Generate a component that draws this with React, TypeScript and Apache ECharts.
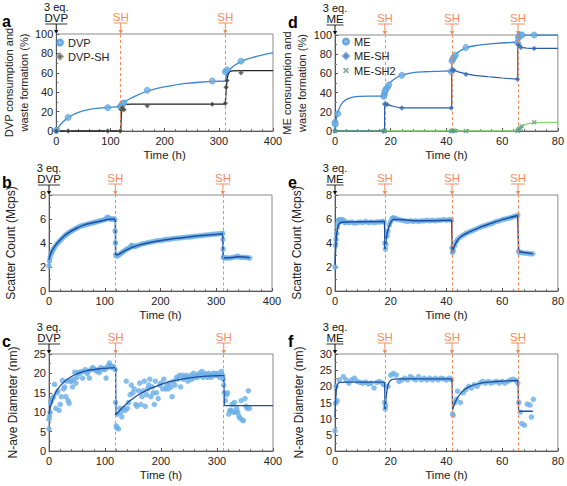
import React, { useEffect, useRef } from 'react';
import * as echarts from 'echarts';

// ---------------- data ----------------
const dvpShTimes = [119, 312];
const meShTimes = [17.9, 42, 65.7];

// panel a
const dvpPts = [[0, 0.5], [1, 1], [22, 14], [95, 24], [118, 25], [120, 26], [122, 28], [125, 29], [168, 42], [288, 51.5], [312, 61], [315, 63], [341, 72]];
const dvpShPts = [[0, 0], [22, 0], [95, 0], [118, 0], [120, 22], [122, 24], [125, 22], [168, 26], [288, 27.5], [312, 28.5], [313.5, 45], [315, 52], [341, 60]];
const dvpFit = [
  [[0, 0], [5, 4.5], [10, 8], [20, 13], [30, 16.5], [40, 19], [55, 21.5], [70, 23], [90, 24.2], [110, 24.8], [119, 25]],
  [[119, 25], [121, 27], [125, 29.5], [135, 33], [150, 37], [170, 41.5], [190, 44.5], [210, 46.5], [240, 49], [270, 50.5], [300, 51.3], [312, 51.5]],
  [[312, 51.5], [314, 57], [317, 61.5], [322, 64.5], [330, 68], [341, 71.5], [355, 74.5], [370, 77], [385, 79], [400, 80.5]],
];
const dvpShFit = [
  [[0, 0], [119, 0]],
  [[119, 0], [120, 16], [121, 23], [123, 26.5], [127, 27.5], [140, 27.7], [312, 27.8]],
  [[312, 27.8], [313.5, 42], [315, 52], [317, 58], [320, 61], [325, 62], [340, 62.2], [400, 62.2]],
];

// panel d
const mePts = [[0, 9], [0.1, 7], [1, 18], [17.5, 36], [17.7, 38], [17.9, 41], [18.2, 43], [18.7, 45], [19.3, 48], [24, 58], [41.7, 62], [42, 73], [42.3, 75], [42.7, 77], [43.2, 79], [47, 87], [65.5, 92], [65.8, 97], [66.2, 99], [66.7, 100], [67.2, 100], [71.5, 100]];
const meShPts = [[0, 0], [17.5, 0], [17.8, 28], [18.1, 28], [18.7, 27.5], [24, 24], [41.7, 24], [42, 63], [42.3, 64], [42.7, 63], [47, 59], [65.5, 54], [65.8, 90], [66.1, 89], [66.7, 87], [71.5, 86]];
const meSh2Pts = [[0, 0], [17.5, 0], [17.8, 0], [41.7, 0], [42, 0], [42.5, 0.5], [43, 0], [47, 0], [65.5, 0], [65.8, 1], [66.1, 2], [66.5, 3], [67, 5], [71.5, 9]];
const meFit = [
  [[0, 0], [0.3, 10], [0.7, 16], [1.2, 21], [2, 26.5], [3, 30.5], [4.5, 33.5], [6.5, 35.3], [9, 36], [13, 36.3], [17.8, 36.4]],
  [[17.8, 36.4], [17.9, 38.5], [18.4, 43], [19, 47], [20, 51], [21.5, 54.5], [23, 57], [25, 59], [28, 60.8], [32, 61.7], [37, 62.2], [41.9, 62.5]],
  [[41.9, 62.5], [42, 70], [42.4, 74], [43, 78], [44, 81.5], [45.5, 84.5], [47.5, 87], [50, 88.8], [54, 90.3], [58, 91.3], [62, 92], [65.6, 92.5]],
  [[65.6, 92.5], [65.8, 96], [66.3, 98], [67, 99.3], [68.5, 99.8], [72, 100], [80, 100]],
];
const meShFit = [
  [[0, 0], [17.8, 0]],
  [[17.8, 0], [17.8, 28]],
  [[17.8, 28], [18.5, 27.7], [20, 26.5], [22, 25], [24, 24.3], [27, 24], [41.9, 24]],
  [[41.9, 24], [41.9, 64]],
  [[41.9, 64], [43, 63], [45, 61], [47, 59.5], [50, 58], [55, 56.5], [60, 55.2], [65.6, 54]],
  [[65.6, 54], [65.6, 90]],
  [[65.6, 90], [66.5, 88], [67.5, 86.8], [69, 86.2], [72, 86], [80, 86]],
];
const meSh2Fit = [[0, 0], [65.6, 0], [66, 1.5], [67, 4.5], [68.5, 7], [70, 8], [72, 8.7], [76, 9], [80, 9]];

// panel b
const bPts = [[0, 2.1], [1, 2.5], [2, 2.8], [4, 3.1], [6, 3.3], [8, 3.5], [10, 3.65], [13, 3.85], [16, 4.0], [19, 4.15], [22, 4.3], [25, 4.45], [28, 4.6], [31, 4.7], [34, 4.8], [37, 4.9], [40, 5.0], [44, 5.1], [48, 5.2], [52, 5.3], [56, 5.4], [60, 5.45], [64, 5.5], [68, 5.55], [72, 5.6], [76, 5.65], [80, 5.7], [84, 5.75], [88, 5.8], [92, 5.85], [96, 5.9], [100, 5.95], [103, 6.05], [105, 6.15], [107, 6.1], [110, 6.0], [113, 6.0], [116, 6.0], [118, 5.95], [118.5, 5.0], [119, 4.0], [119.5, 3.0], [122, 2.9], [125, 3.0], [128, 3.1], [131, 3.2], [134, 3.3], [137, 3.4], [140, 3.5], [143, 3.55], [146, 3.65], [148, 3.8], [150, 3.75], [153, 3.7], [156, 3.75], [160, 3.8], [165, 3.9], [170, 3.95], [175, 4.0], [180, 4.05], [185, 4.1], [190, 4.15], [195, 4.2], [200, 4.2], [205, 4.25], [210, 4.3], [215, 4.3], [220, 4.35], [225, 4.38], [230, 4.4], [235, 4.42], [240, 4.45], [245, 4.48], [250, 4.5], [255, 4.52], [260, 4.55], [265, 4.57], [270, 4.6], [275, 4.62], [280, 4.65], [285, 4.67], [290, 4.7], [295, 4.72], [300, 4.75], [305, 4.77], [310, 4.78], [311.5, 4.8], [312, 4.3], [312.3, 3.5], [312.6, 2.8], [316, 2.75], [320, 2.75], [325, 2.75], [330, 2.8], [335, 2.85], [338, 2.9], [341, 2.85], [345, 2.8], [350, 2.8], [355, 2.78], [360, 2.75]];
const bFit = [
  [[0, 2.6], [3, 3.1], [6, 3.4], [10, 3.7], [15, 4.0], [20, 4.25], [30, 4.7], [40, 5.0], [50, 5.25], [60, 5.45], [70, 5.6], [80, 5.7], [90, 5.8], [100, 5.9], [110, 5.97], [119, 6.0]],
  [[119, 6.0], [119.5, 3.0]],
  [[119.5, 3.0], [125, 3.05], [130, 3.2], [140, 3.45], [150, 3.65], [160, 3.8], [175, 3.98], [190, 4.12], [210, 4.28], [230, 4.4], [250, 4.5], [270, 4.6], [290, 4.68], [312, 4.78]],
  [[312, 4.78], [312.5, 2.75]],
  [[312.5, 2.75], [330, 2.8], [340, 2.85], [360, 2.78]],
];

// panel e
const ePts = [[0, 2.0], [0.2, 3.8], [0.4, 4.3], [0.6, 4.8], [0.8, 5.3], [1, 5.6], [1.3, 5.9], [1.6, 5.95], [2, 5.8], [2.5, 5.95], [3, 5.9], [3.5, 5.7], [4, 5.75], [5, 5.7], [6, 5.75], [7, 5.65], [8, 5.7], [9, 5.75], [10, 5.7], [11, 5.8], [12, 5.7], [13, 5.75], [14, 5.7], [15, 5.75], [16, 5.75], [17, 5.8], [17.6, 5.75], [17.9, 4.0], [18.1, 3.5], [18.3, 3.9], [18.7, 4.6], [19, 5.0], [19.5, 5.5], [20, 5.8], [20.5, 6.05], [21, 6.1], [21.5, 6.05], [22, 6.0], [23, 5.95], [24, 5.9], [25, 5.85], [26, 5.8], [27, 5.85], [28, 5.8], [29, 5.85], [30, 5.8], [31, 5.85], [32, 5.85], [33, 5.9], [34, 5.85], [35, 5.9], [36, 5.85], [37, 5.9], [38, 5.9], [39, 5.95], [40, 5.9], [41, 5.95], [41.8, 5.9], [42, 3.6], [42.2, 3.2], [42.5, 3.4], [43, 3.8], [43.5, 4.1], [44, 4.3], [45, 4.5], [46, 4.65], [47, 4.8], [48, 4.9], [49, 5.0], [50, 5.1], [51, 5.2], [52, 5.3], [53, 5.4], [54, 5.45], [55, 5.55], [56, 5.6], [57, 5.7], [58, 5.8], [59, 5.85], [60, 5.95], [61, 6.0], [62, 6.05], [63, 6.1], [64, 6.2], [65, 6.25], [65.6, 6.3], [65.9, 3.3], [66.3, 3.2], [67, 3.2], [68, 3.15], [69, 3.15], [70, 3.1], [71, 3.1]];
const eFit = [
  [[0, 2.2], [0.3, 3.8], [0.6, 4.7], [1, 5.3], [1.5, 5.6], [2.5, 5.72], [5, 5.75], [17.8, 5.8]],
  [[17.8, 5.8], [17.95, 3.5]],
  [[17.95, 3.5], [18.3, 4.2], [19, 5.1], [20, 5.7], [21, 5.95], [23, 5.95], [30, 5.85], [41.9, 5.9]],
  [[41.9, 5.9], [42.1, 3.2]],
  [[42.1, 3.2], [42.6, 3.6], [43.5, 4.05], [45, 4.5], [48, 4.9], [52, 5.3], [56, 5.65], [60, 5.95], [65.6, 6.3]],
  [[65.6, 6.3], [65.9, 3.3]],
  [[65.9, 3.3], [68, 3.2], [71, 3.1]],
];

// panel c
const cPts = [[0, 5.7], [0, 8.2], [1, 9], [2, 10], [3, 12.5], [4, 13], [6, 13.5], [8, 14], [10, 17.2], [12, 11], [14, 15], [16, 15.5], [18, 10.5], [20, 12], [22, 14], [24, 18.2], [26, 16], [28, 16.5], [30, 14], [32, 18], [34, 13], [36, 12.3], [38, 18], [40, 18], [42, 16.5], [44, 18.5], [46, 20.3], [48, 17.5], [50, 19], [52, 20.2], [55, 20], [58, 20.5], [60, 18.8], [62, 20.5], [65, 21], [68, 20], [70, 20.5], [72, 18.8], [75, 21], [78, 21.5], [80, 21.2], [83, 20.8], [86, 20.5], [88, 21], [90, 20.2], [92, 21.5], [95, 21], [98, 21.3], [100, 21], [102, 18.8], [104, 21.5], [106, 22], [108, 22.7], [110, 22], [112, 21.5], [115, 21.8], [118, 21], [119, 12.5], [120, 6.5], [121, 6], [122, 9.5], [124, 5.7], [126, 11], [128, 10], [130, 8.8], [133, 11], [136, 10.5], [138, 18], [140, 11], [142, 12.5], [145, 14.5], [147, 17], [150, 15], [152, 16], [155, 12], [157, 11.5], [160, 15.5], [162, 17.5], [164, 12], [166, 14], [168, 15.5], [170, 18], [172, 11.5], [174, 14.5], [176, 16], [178, 17], [180, 18.5], [182, 14], [184, 16.5], [186, 15], [188, 12], [190, 18], [192, 15], [195, 13.5], [198, 17], [200, 17.5], [203, 16], [205, 18.5], [208, 16], [210, 17], [213, 16], [215, 17.5], [218, 16.5], [220, 14], [222, 18], [225, 17], [228, 19], [230, 18.5], [233, 19.5], [235, 16.5], [238, 19.5], [240, 18.5], [243, 19], [245, 19.5], [248, 18], [250, 19], [253, 19.5], [255, 18.5], [258, 20], [260, 19], [263, 19.5], [265, 19], [268, 20], [270, 19.5], [273, 20.5], [275, 19], [278, 20], [280, 19.5], [283, 19], [285, 20], [288, 19.5], [290, 19], [293, 20], [295, 19.5], [298, 20], [300, 19.5], [303, 20], [305, 19], [308, 20.5], [310, 19.5], [311, 18.5], [312, 17], [313, 15], [315, 13], [317, 14.5], [319, 15], [321, 9.5], [323, 10.5], [325, 10.5], [327, 12], [329, 10], [331, 12.5], [333, 10], [335, 11], [337, 10], [339, 9], [341, 8.5], [343, 13], [345, 8], [347, 7.8], [350, 13.5], [352, 11.5], [354, 11], [356, 15.5], [358, 11]];
const cFit = [
  [[0, 9.5], [3, 11.5], [6, 13], [10, 14.5], [15, 15.8], [20, 16.8], [30, 18.2], [40, 19.2], [50, 19.9], [60, 20.4], [70, 20.8], [80, 21.0], [90, 21.2], [100, 21.3], [110, 21.4], [119, 21.5]],
  [[119, 21.5], [119.5, 9.3]],
  [[119.5, 9.3], [125, 10.2], [130, 11], [140, 12.4], [150, 13.5], [160, 14.5], [175, 15.7], [190, 16.6], [205, 17.4], [220, 18], [240, 18.6], [260, 19], [280, 19.3], [300, 19.4], [312, 19.5]],
  [[312, 19.5], [313, 11.7]],
  [[313, 11.7], [400, 11.7]],
];

// panel f
const fPts = [[0, 6.3], [0.2, 14.8], [0.4, 20], [0.8, 15.5], [1.5, 22], [3, 23], [4, 22], [5, 21], [6, 22], [7, 22.5], [8, 21.5], [9, 21.2], [10, 21], [11, 21.3], [12, 20.8], [13, 21], [14, 19.5], [15, 21.2], [16, 21.5], [17, 21], [17.5, 20.5], [17.8, 15], [18, 13], [18.2, 14], [19, 20], [20, 23.5], [21, 24], [22, 23.5], [23, 21.5], [24, 22], [25, 22.5], [26, 22], [27, 23], [28, 22.5], [29, 22], [30, 23], [31, 22], [32, 22.5], [33, 22], [34, 22.5], [35, 22], [36, 22.5], [37, 22], [38, 22.5], [39, 22.3], [40, 22], [41, 22.5], [41.8, 22], [42.2, 11.5], [42.4, 11], [43, 15], [43.5, 16], [44, 18.5], [45, 15], [46, 18], [47, 19], [48, 20], [49, 19.5], [50, 20.5], [51, 20], [52, 21], [53, 21.5], [54, 21], [55, 21.5], [56, 21], [57, 21.3], [58, 21.5], [59, 21], [60, 21.5], [61, 21], [62, 21.5], [63, 22], [64, 22.2], [65, 21.8], [65.6, 21], [66, 15], [66.5, 12], [67, 8.5], [68, 8], [69, 14.5], [70, 14.2], [70.5, 10.5], [71.2, 16]];
const fFit = [
  [[0, 10.5], [0.2, 15], [0.5, 19], [1, 20.8], [2, 21.2], [5, 21.3], [17.8, 21.3]],
  [[17.8, 21.3], [18, 13]],
  [[18, 13], [18.4, 17], [18.8, 19.5], [19.3, 21], [20, 21.9], [21, 22.2], [23, 22.3], [42, 22.3]],
  [[42, 22.3], [42.2, 12.8]],
  [[42.2, 12.8], [43, 14.8], [44, 16.5], [45.5, 18.2], [47, 19.3], [49, 20.2], [52, 20.9], [55, 21.3], [58, 21.5], [62, 21.7], [65.7, 21.8]],
  [[65.7, 21.8], [65.9, 12.3]],
  [[65.9, 12.3], [71, 12.3]],
];

// ---------------- style / layout ----------------
const FONT = "'Liberation Sans', Arial, Helvetica, sans-serif";
const ORANGE = '#f58a5c';
const LIGHT = '#6aaee6';
const LIGHT_B = '#4d96d8';
const DARK = '#1c4f9e';
const GREEN = '#86d96a';
const XMARK = 'path://M0,2L2,0L5,3L8,0L10,2L7,5L10,8L8,10L5,7L2,10L0,8L3,5Z';

const panels = [
  { letter: 'a', grid: { left: 49, top: 34, width: 224, height: 97 }, xMax: 400, xInt: 100, yMax: 100, yInt: 20, yName: 'DVP consumption and\nwaste formation (%)', yGap: 18, yFs: 11, agent: 'DVP', sh: dvpShTimes, lx: 2 },
  { letter: 'b', grid: { left: 49, top: 195, width: 223, height: 96 }, xMax: 400, xInt: 100, yMax: 8, yInt: 2, yName: 'Scatter Count (Mcps)', yGap: 31, yFs: 12, agent: 'DVP', sh: dvpShTimes, lx: 2 },
  { letter: 'c', grid: { left: 49, top: 354, width: 224, height: 97 }, xMax: 400, xInt: 100, yMax: 25, yInt: 5, yName: 'N-ave Diameter (nm)', yGap: 29, yFs: 12, agent: 'DVP', sh: dvpShTimes, lx: 2 },
  { letter: 'd', grid: { left: 335, top: 35, width: 224, height: 96 }, xMax: 80, xInt: 20, yMax: 100, yInt: 20, yName: 'ME consumption and\nwaste formation (%)', yGap: 19, yFs: 11, agent: 'ME', sh: meShTimes, lx: 288 },
  { letter: 'e', grid: { left: 335, top: 195, width: 224, height: 96 }, xMax: 80, xInt: 20, yMax: 8, yInt: 2, yName: 'Scatter Count (Mcps)', yGap: 31, yFs: 12, agent: 'ME', sh: meShTimes, lx: 288 },
  { letter: 'f', grid: { left: 335, top: 354, width: 224, height: 97 }, xMax: 80, xInt: 20, yMax: 30, yInt: 5, yName: 'N-ave Diameter (nm)', yGap: 29, yFs: 12, agent: 'ME', sh: meShTimes, lx: 288 },
];

function fitSeries(segs: number[][][], i: number, color: string, width = 1.3, z = 3) {
  return segs.map((s, k) => ({
    type: 'line', name: `fit-${i}-${color}-${k}`, xAxisIndex: i, yAxisIndex: i, data: s,
    smooth: s.length > 2 ? 0.35 : false, symbol: 'none', showSymbol: false, silent: true, z,
    lineStyle: { color, width },
  }));
}

function shMark(times: number[]) {
  return {
    silent: true, symbol: ['none', 'none'], label: { show: false },
    lineStyle: { color: ORANGE, type: [3, 2.5], width: 1 },
    data: times.map((t) => ({ xAxis: t })),
  };
}

function buildOption() {
  const series: any[] = [];
  // a
  series.push({ type: 'scatter', name: 'DVP', xAxisIndex: 0, yAxisIndex: 0, data: dvpPts, symbol: 'circle', symbolSize: 6, itemStyle: { color: LIGHT, borderColor: LIGHT_B, borderWidth: 0.8 }, z: 4, markLine: shMark(dvpShTimes) });
  series.push({ type: 'scatter', name: 'DVP-SH', xAxisIndex: 0, yAxisIndex: 0, data: dvpShPts, symbol: 'diamond', symbolSize: 5, itemStyle: { color: '#3a3a3a', borderColor: '#999', borderWidth: 0.6 }, z: 5 });
  series.push(...fitSeries(dvpFit, 0, '#3b86d0', 1.3));
  series.push(...fitSeries(dvpShFit, 0, '#222222', 1.3));
  // b
  series.push({ type: 'scatter', name: 'b-pts', xAxisIndex: 1, yAxisIndex: 1, data: bPts, symbolSize: 5.5, itemStyle: { color: LIGHT }, z: 2, markLine: shMark(dvpShTimes) });
  series.push(...fitSeries(bFit, 1, DARK, 1.5));
  // c
  series.push({ type: 'scatter', name: 'c-pts', xAxisIndex: 2, yAxisIndex: 2, data: cPts, symbolSize: 5.5, itemStyle: { color: LIGHT }, z: 2, markLine: shMark(dvpShTimes) });
  series.push(...fitSeries(cFit, 2, DARK, 1.3));
  // d
  series.push({ type: 'scatter', name: 'ME', xAxisIndex: 3, yAxisIndex: 3, data: mePts, symbol: 'circle', symbolSize: 6, itemStyle: { color: LIGHT, borderColor: LIGHT_B, borderWidth: 0.8 }, z: 4, markLine: shMark(meShTimes) });
  series.push({ type: 'scatter', name: 'ME-SH', xAxisIndex: 3, yAxisIndex: 3, data: meShPts, symbol: 'diamond', symbolSize: 5, itemStyle: { color: '#3467b0', borderColor: '#6e98d0', borderWidth: 0.6 }, z: 5 });
  series.push({ type: 'scatter', name: 'ME-SH2', xAxisIndex: 3, yAxisIndex: 3, data: meSh2Pts, symbol: XMARK, symbolSize: 5, itemStyle: { color: '#5a9e8a' }, z: 5 });
  series.push(...fitSeries(meFit, 3, '#3b80cc', 1.3));
  series.push(...fitSeries(meShFit, 3, '#2a5aa6', 1.2));
  series.push(...fitSeries([meSh2Fit], 3, GREEN, 1.3, 2));
  // e
  series.push({ type: 'scatter', name: 'e-pts', xAxisIndex: 4, yAxisIndex: 4, data: ePts, symbolSize: 5.5, itemStyle: { color: LIGHT }, z: 2, markLine: shMark(meShTimes) });
  series.push(...fitSeries(eFit, 4, DARK, 1.5));
  // f
  series.push({ type: 'scatter', name: 'f-pts', xAxisIndex: 5, yAxisIndex: 5, data: fPts, symbolSize: 5.5, itemStyle: { color: LIGHT }, z: 2, markLine: shMark(meShTimes) });
  series.push(...fitSeries(fFit, 5, DARK, 1.3));

  const axisCommon = {
    type: 'value',
    axisLine: { show: true, lineStyle: { color: '#555', width: 1 } },
    axisTick: { show: true, inside: true, length: 3, lineStyle: { color: '#555' } },
    splitLine: { show: false },
  };

  const legendText = { fontSize: 11, color: '#222', fontFamily: FONT };
  return {
    animation: false,
    backgroundColor: '#ffffff',
    textStyle: { fontFamily: FONT },
    grid: panels.map((p) => ({ ...p.grid, show: true, borderColor: '#8a8a8a', borderWidth: 1, containLabel: false })),
    xAxis: panels.map((p, i) => ({
      ...axisCommon, gridIndex: i, min: 0, max: p.xMax, interval: p.xInt,
      minorTick: { show: true, splitNumber: 5, length: 2, lineStyle: { color: '#777' } },
      axisLabel: { fontSize: 11, color: '#222', margin: 4, fontFamily: FONT },
      name: 'Time (h)', nameLocation: 'middle', nameGap: 18,
      nameTextStyle: { fontSize: 11.5, color: '#222', fontFamily: FONT },
    })),
    yAxis: panels.map((p, i) => ({
      ...axisCommon, gridIndex: i, min: 0, max: p.yMax, interval: p.yInt,
      minorTick: { show: true, splitNumber: 2, length: 2, lineStyle: { color: '#777' } },
      axisLabel: { fontSize: 11, color: '#222', margin: 3, fontFamily: FONT },
      name: p.yName, nameLocation: 'middle', nameRotate: 90, nameGap: p.yGap,
      nameTextStyle: { fontSize: p.yFs, color: '#222', fontFamily: FONT, lineHeight: 15 },
    })),
    legend: [
      {
        data: [{ name: 'DVP', icon: 'circle' }, { name: 'DVP-SH', icon: 'diamond' }],
        orient: 'vertical', left: 56, top: 37, padding: 0, itemWidth: 6, itemHeight: 6, itemGap: 3, selectedMode: false, textStyle: legendText,
      },
      {
        data: [{ name: 'ME', icon: 'circle' }, { name: 'ME-SH', icon: 'diamond' }, { name: 'ME-SH2', icon: XMARK }],
        orient: 'vertical', left: 342, top: 36, padding: 0, itemWidth: 6, itemHeight: 6, itemGap: 3.5, selectedMode: false, textStyle: legendText,
      },
    ],
    series,
  };
}

function buildGraphic(chart: any) {
  const els: any[] = [];
  const agentW: Record<string, number> = { DVP: 22, ME: 17 };
  panels.forEach((p, i) => {
    const [x0, top] = chart.convertToPixel({ gridIndex: i }, [0, p.yMax]);
    els.push({ type: 'text', x: p.lx, y: top - 13, style: { text: p.letter, font: `bold 16px ${FONT}`, fill: '#000', verticalAlign: 'middle', align: 'left' } });
    els.push({ type: 'text', x: x0, y: top - 27, style: { text: '3 eq.', font: `11px ${FONT}`, fill: '#111', align: 'center', verticalAlign: 'middle' } });
    els.push({ type: 'text', x: x0, y: top - 16, style: { text: p.agent, font: `11.5px ${FONT}`, fill: '#111', align: 'center', verticalAlign: 'middle' } });
    const w = agentW[p.agent];
    els.push({ type: 'line', shape: { x1: x0 - w / 2, y1: top - 10, x2: x0 + w / 2, y2: top - 10 }, style: { stroke: '#333', lineWidth: 1 } });
    els.push({ type: 'line', shape: { x1: x0, y1: top - 10, x2: x0, y2: top - 3 }, style: { stroke: '#111', lineWidth: 1 } });
    els.push({ type: 'polygon', shape: { points: [[x0 - 2.2, top - 4], [x0 + 2.2, top - 4], [x0, top]] }, style: { fill: '#111' } });
    p.sh.forEach((t) => {
      const [xs] = chart.convertToPixel({ gridIndex: i }, [t, p.yMax]);
      els.push({ type: 'text', x: xs, y: top - 17, style: { text: 'SH', font: `11.5px ${FONT}`, fill: ORANGE, align: 'center', verticalAlign: 'middle' } });
      els.push({ type: 'line', shape: { x1: xs - 7, y1: top - 11, x2: xs + 7, y2: top - 11 }, style: { stroke: ORANGE, lineWidth: 1 } });
      els.push({ type: 'line', shape: { x1: xs, y1: top - 11, x2: xs, y2: top - 3 }, style: { stroke: ORANGE, lineWidth: 1 } });
      els.push({ type: 'polygon', shape: { points: [[xs - 2.2, top - 4], [xs + 2.2, top - 4], [xs, top]] }, style: { fill: ORANGE } });
    });
  });
  return els;
}

export default function App() {
  const ref = useRef<HTMLDivElement>(null);
  useEffect(() => {
    document.body.style.margin = '0';
    const chart = echarts.init(ref.current as HTMLDivElement, null, { renderer: 'svg' });
    chart.setOption(buildOption() as any);
    chart.setOption({ graphic: buildGraphic(chart) } as any);
    return () => chart.dispose();
  }, []);
  return <div ref={ref} style={{ width: 567, height: 486 }} />;
}
